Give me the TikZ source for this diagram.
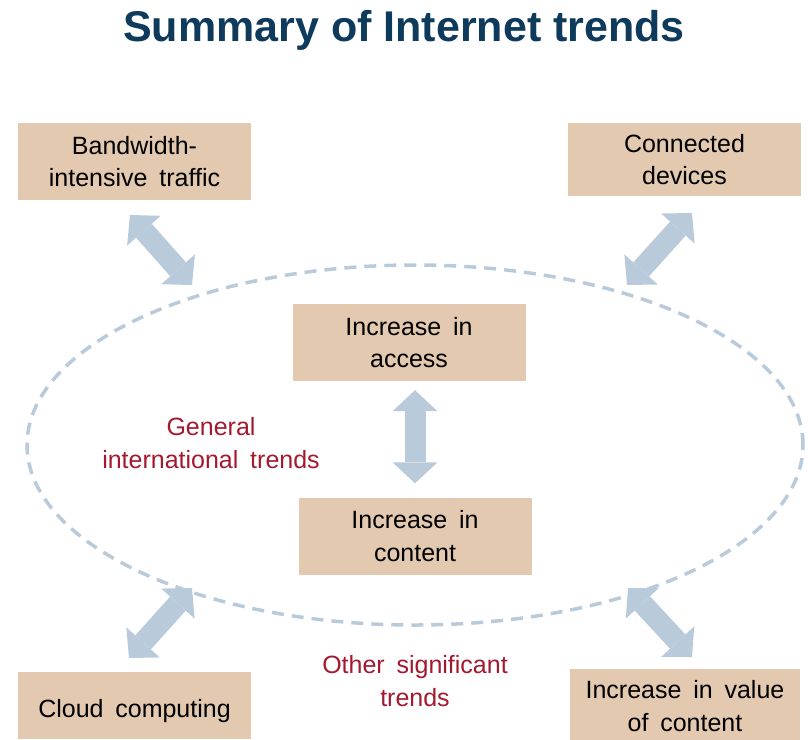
\documentclass[tikz,border=0pt]{standalone}
\usepackage{fontspec}
\setmainfont{Liberation Sans}[WordSpace=1.7]
\newfontfamily\headingfont{Liberation Sans}
\usetikzlibrary{arrows.meta,shapes.geometric}
\definecolor{boxtan}{HTML}{E2C9AF}
\definecolor{linkblue}{HTML}{B9CBDA}
\definecolor{titleblue}{HTML}{0E3A5C}
\definecolor{trendred}{HTML}{A3192F}
\begin{document}
\begin{tikzpicture}[x=1pt,y=-1pt,
  trendbox/.style={fill=boxtan, minimum width=233pt, minimum height=77pt,
    inner sep=0pt, align=center, font=\fontsize{25}{32.5}\selectfont},
  trendlabel/.style={text=trendred, align=center, inner sep=0pt,
    font=\fontsize{25}{32.5}\selectfont},
  linkhead/.tip={Triangle[length=21pt,width=45pt,line width=0pt]},
  link/.style={draw=linkblue, line width=21pt, linkhead-linkhead},
  ringline/.style={draw=linkblue, line width=3.5pt, dash pattern=on 12pt off 8pt}]
  \useasboundingbox (0,0) rectangle (808,739);

  % heading
  \node[font=\headingfont\fontsize{43}{50}\selectfont\bfseries, text=titleblue] (title) at (404,30) {Summary of Internet trends};

  % dashed ring around the general trends
  \node[ellipse, ringline, minimum width=776pt, minimum height=360pt, inner sep=0pt] (ring) at (415,445) {};

  % trend boxes
  \node[trendbox] (bw) at (134.5,161.5) {Bandwidth-\\intensive traffic};
  \node[trendbox, minimum height=73pt] (dev) at (684.5,159.5) {Connected\\devices};
  \node[trendbox] (access) at (409,342.5) {Increase in\\access};
  \node[trendbox] (content) at (415,536) {Increase in\\content};
  \node[trendbox, minimum height=67pt, text height=30pt] (cloud) at (134.5,705.5) {Cloud computing};
  \node[trendbox, minimum width=230pt, minimum height=74pt, yshift=-4pt] (value) at (685,702) {Increase in value\\of content};

  % group labels
  \node[trendlabel] (general) at (211,443) {General\\international trends};
  \node[trendlabel] (other) at (415,681) {Other significant\\trends};

  % arrow ends between the outer boxes and the ring
  \coordinate (bw-tip) at (130,215);
  \coordinate (ring-nw) at (192,285);
  \coordinate (dev-tip) at (692,213);
  \coordinate (ring-ne) at (627,285);
  \coordinate (ring-sw) at (192,588);
  \coordinate (cloud-tip) at (129,658);
  \coordinate (ring-se) at (628,588);
  \coordinate (value-tip) at (692,657);

  % two-way links
  \draw[link] (bw-tip) -- (ring-nw);
  \draw[link] (dev-tip) -- (ring-ne);
  \draw[link, shorten <=9pt, shorten >=14pt] (content.north |- access.south) -- (content.north);
  \draw[link] (ring-sw) -- (cloud-tip);
  \draw[link] (ring-se) -- (value-tip);
\end{tikzpicture}
\end{document}
